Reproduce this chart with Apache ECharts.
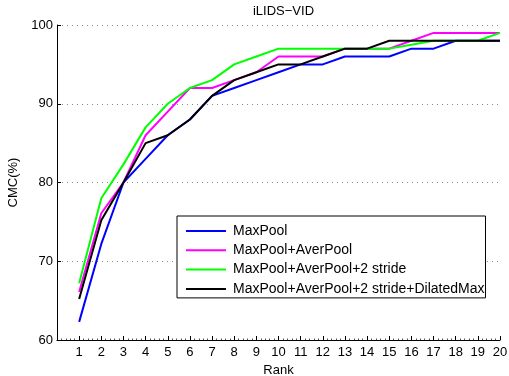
<!DOCTYPE html>
<html>
<head>
<meta charset="utf-8">
<script src="https://cdn.jsdelivr.net/npm/echarts@6/dist/echarts.min.js"></script>
<style>html,body{margin:0;padding:0;background:#fff;}#c{width:509px;height:376px;}</style>
</head>
<body>
<div id="c"></div>
<script>
const ranks = [1,2,3,4,5,6,7,8,9,10,11,12,13,14,15,16,17,18,19,20];
const seriesNames = ['MaxPool','MaxPool+AverPool','MaxPool+AverPool+2 stride','MaxPool+AverPool+2 stride+DilatedMax'];
const maxPool = [62.3,72.2,80,83,86,88,91,92,93,94,95,95,96,96,96,97,97,98,98,98];
const maxAver = [66.1,76.1,80,86,89,92,92,93,94,96,96,96,97,97,97,98,99,99,99,99];
const maxAver2 = [67.2,78,82.3,87,90,92,93,95,96,97,97,97,97,97,97,97.5,98,98,98,99];
const maxAver2Dil = [65.2,75.2,80,85,86,88,91,93,94,95,95,96,97,97,98,98,98,98,98,98];
const yTicks = [60,70,80,90,100];
const colors = ['#0000ff','#ff00ff','#00ff00','#000000'];
const allData = [maxPool, maxAver, maxAver2, maxAver2Dil];

const font = 'Liberation Sans, Arial, Helvetica, sans-serif';
const chart = echarts.init(document.getElementById('c'), null, {renderer:'canvas'});
chart.setOption({
  animation: false,
  backgroundColor: '#fff',
  title: {
    text: 'iLIDS\u2212VID', left: 278.5, textAlign: 'center', top: 0,
    textStyle: {fontFamily: font, fontSize: 13, fontWeight: 'normal', color: '#000'}
  },
  grid: {left: 57, right: 9, top: 25, bottom: 36, containLabel: false, outerBoundsMode: 'none'},
  legend: {
    orient: 'vertical', left: 177, top: 216,
    data: seriesNames,
    icon: 'rect',
    itemWidth: 40, itemHeight: 2, itemGap: 5.3,
    padding: [8, 1, 2, 9],
    borderColor: '#000', borderWidth: 1, backgroundColor: '#fff',
    textStyle: {fontFamily: font, fontSize: 14, color: '#000', padding: [0, 0, 0, 2]}
  },
  xAxis: {
    type: 'value', min: 0, max: 20, interval: 1,
    name: 'Rank', nameLocation: 'middle', nameGap: 23,
    nameTextStyle: {fontFamily: font, fontSize: 13, color: '#000'},
    axisLine: {lineStyle: {color: '#000', width: 1}},
    axisTick: {inside: true, length: 4, lineStyle: {color: '#000'}},
    minorTick: {show: true, splitNumber: 5, length: 1.5, lineStyle: {color: '#555'}},
    axisLabel: {fontFamily: font, fontSize: 13, color: '#000', margin: 6,
      formatter: v => (ranks.indexOf(v) >= 0 ? String(v) : '')},
    splitLine: {show: false}
  },
  yAxis: {
    type: 'value', min: 60, max: 100, interval: 10,
    name: 'CMC(%)', nameLocation: 'middle', nameGap: 32,
    nameTextStyle: {fontFamily: font, fontSize: 13, color: '#000'},
    axisLine: {show: true, lineStyle: {color: '#000', width: 1}},
    axisTick: {show: true, inside: true, length: 4, lineStyle: {color: '#000'}},
    axisLabel: {fontFamily: font, fontSize: 13, color: '#000', margin: 4,
      formatter: v => (yTicks.indexOf(v) >= 0 ? String(v) : '')},
    splitLine: {show: true, lineStyle: {color: '#888', type: [1, 4], width: 1}}
  },
  series: seriesNames.map((n, i) => ({
    name: n, type: 'line', symbol: 'none', color: colors[i],
    lineStyle: {width: 2, color: colors[i]},
    data: ranks.map((r, j) => [r, allData[i][j]]),
    z: 2 + i
  }))
});
</script>
</body>
</html>
